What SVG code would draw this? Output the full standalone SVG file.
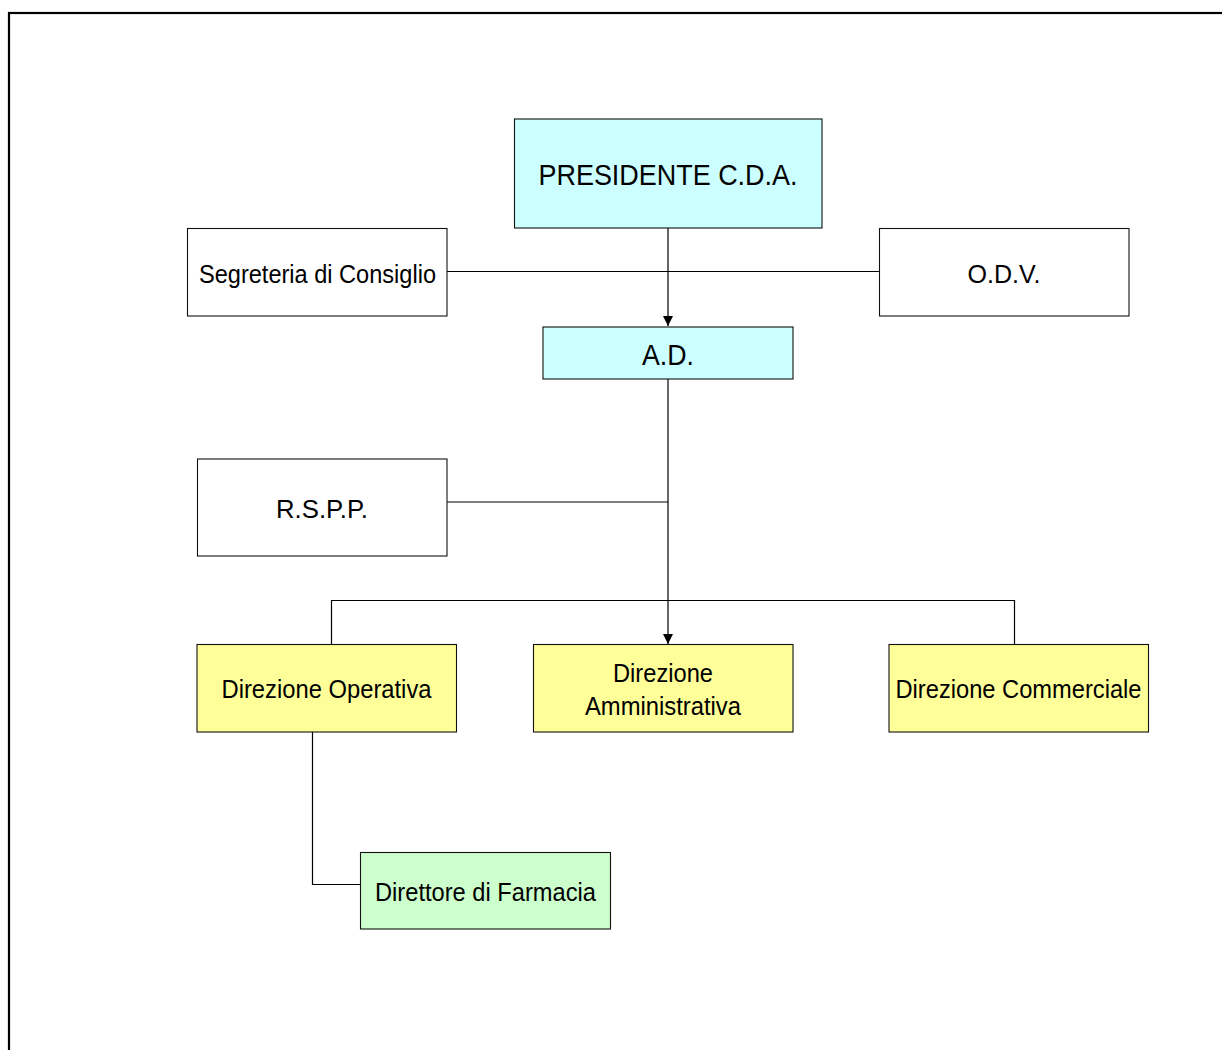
<svg xmlns="http://www.w3.org/2000/svg" width="1222" height="1050" viewBox="0 0 1222 1050">
<style>
.box{stroke:#111;stroke-width:1.1}
.cyan{fill:#CCFFFF}
.white{fill:#FFFFFF}
.yellow{fill:#FFFF99}
.green{fill:#CCFFCC}
.conn{stroke:#000;stroke-width:1.2;fill:none}
text{font-family:"Liberation Sans",Arial,sans-serif;fill:#000;text-anchor:middle}
.big{font-size:30px}
.sm{font-size:26px}
</style>
<defs>
<marker id="arr" viewBox="0 0 10 10" refX="10" refY="5" markerWidth="10" markerHeight="11" markerUnits="userSpaceOnUse" orient="auto">
<path d="M0,0 L10,5 L0,10 z" fill="#000"/>
</marker>
</defs>
<rect x="9" y="13" width="1230" height="1060" fill="none" stroke="#000" stroke-width="2.2"/>
<g id="connectors">
<line class="conn" x1="447" y1="271.5" x2="879" y2="271.5"/>
<line class="conn" x1="668" y1="228" x2="668" y2="326" marker-end="url(#arr)"/>
<line class="conn" x1="668" y1="379" x2="668" y2="644" marker-end="url(#arr)"/>
<line class="conn" x1="447" y1="502" x2="668" y2="502"/>
<polyline class="conn" points="331.5,644 331.5,600.5 1014.5,600.5 1014.5,644"/>
<polyline class="conn" points="312.5,732 312.5,884.5 360,884.5"/>
</g>
<g id="presidente">
<rect class="box cyan" x="514.5" y="119" width="307.5" height="109"/>
<text class="big" x="668" y="185" textLength="259" lengthAdjust="spacingAndGlyphs">PRESIDENTE C.D.A.</text>
</g>
<g id="segreteria">
<rect class="box white" x="187.5" y="228.5" width="259.5" height="87.5"/>
<text class="sm" x="317.5" y="282.5" textLength="237" lengthAdjust="spacingAndGlyphs">Segreteria di Consiglio</text>
</g>
<g id="odv">
<rect class="box white" x="879.5" y="228.5" width="249.5" height="87.5"/>
<text class="sm" x="1004" y="282.5" textLength="73" lengthAdjust="spacingAndGlyphs">O.D.V.</text>
</g>
<g id="ad">
<rect class="box cyan" x="543" y="327" width="250" height="52"/>
<text class="big" x="668" y="365" textLength="52" lengthAdjust="spacingAndGlyphs">A.D.</text>
</g>
<g id="rspp">
<rect class="box white" x="197.5" y="459" width="249.5" height="97"/>
<text class="sm" x="322" y="517.5" textLength="92" lengthAdjust="spacingAndGlyphs">R.S.P.P.</text>
</g>
<g id="dir-operativa">
<rect class="box yellow" x="197" y="644.5" width="259.5" height="87.5"/>
<text class="sm" x="326.5" y="697.5" textLength="210" lengthAdjust="spacingAndGlyphs">Direzione Operativa</text>
</g>
<g id="dir-amministrativa">
<rect class="box yellow" x="533.5" y="644.5" width="259.5" height="87.5"/>
<text class="sm" x="663" y="681.5" textLength="100" lengthAdjust="spacingAndGlyphs">Direzione</text>
<text class="sm" x="663" y="714.5" textLength="156" lengthAdjust="spacingAndGlyphs">Amministrativa</text>
</g>
<g id="dir-commerciale">
<rect class="box yellow" x="889" y="644.5" width="259.5" height="87.5"/>
<text class="sm" x="1018.5" y="697.5" textLength="246" lengthAdjust="spacingAndGlyphs">Direzione Commerciale</text>
</g>
<g id="direttore-farmacia">
<rect class="box green" x="360.5" y="852.5" width="250" height="76.5"/>
<text class="sm" x="485.5" y="900.5" textLength="221" lengthAdjust="spacingAndGlyphs">Direttore di Farmacia</text>
</g>
</svg>
